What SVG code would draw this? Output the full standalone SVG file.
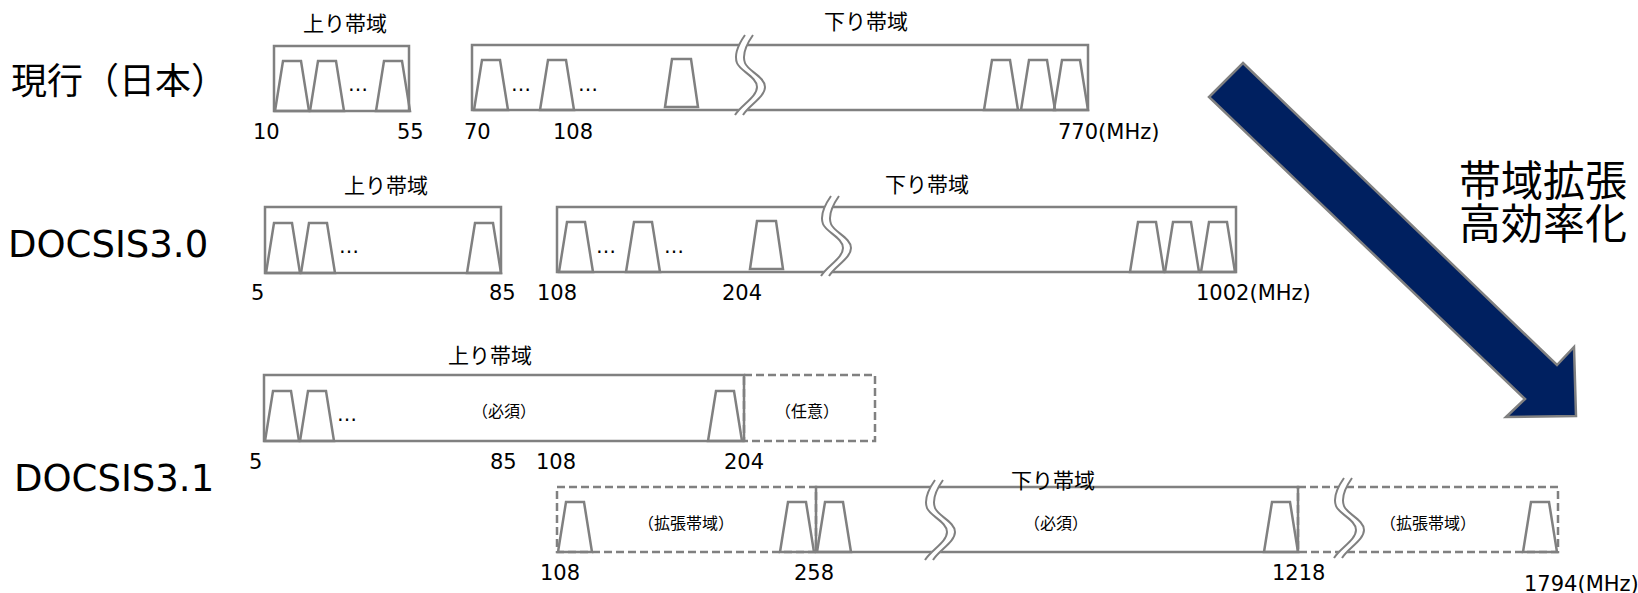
<svg xmlns="http://www.w3.org/2000/svg" xmlns:xlink="http://www.w3.org/1999/xlink" width="1638" height="593" viewBox="0 0 1638 593">
<style>
.box{fill:none;stroke:#808080;stroke-width:2.5}
.dash{fill:none;stroke:#808080;stroke-width:2.5;stroke-dasharray:8 4}
.trap{fill:none;stroke:#808080;stroke-width:2.5;stroke-linejoin:miter}
.brk{fill:none;stroke:#808080;stroke-width:2}
.brkw{fill:none;stroke:#ffffff;stroke-width:7}
.num{font-family:"DejaVu Sans",Verdana,sans-serif;font-size:21px;fill:#000}
.jp{font-family:"Noto Sans CJK JP",sans-serif;font-size:21px;fill:#000;text-anchor:middle}
.jps{font-family:"Noto Sans CJK JP",sans-serif;font-size:16px;fill:#000;text-anchor:middle}
.dots{font-family:"DejaVu Sans",sans-serif;font-size:20px;fill:#000}
.ttl{font-family:"DejaVu Sans",Verdana,sans-serif;font-size:37px;fill:#000}
.ttljp{font-family:"Noto Sans CJK JP",sans-serif;font-size:36px;fill:#000}
.big{font-family:"Noto Sans CJK JP",sans-serif;font-size:42px;fill:#000}
</style>
<defs>
<path id="tr" d="M0 0 L8 -50 L26 -50 L34 0 Z"/>
<path id="trs" d="M0 0 L7 -48 L26 -48 L33 0 Z"/>
<g id="brk">
<path class="brkw" d="M14 0 C7 10 3 20 6 28 C9 36 26 42 26 52 C26 62 10 70 4 80"/>
<path class="brk" d="M10 0 C3 10 -1 20 2 28 C5 36 22 42 22 52 C22 62 6 70 0 80"/>
<path class="brk" d="M18 0 C11 10 7 20 10 28 C13 36 30 42 30 52 C30 62 14 70 8 80"/>
</g>
</defs>
<rect width="1638" height="593" fill="#fff"/>

<g id="title-genko"><text class="ttljp" x="11" y="94">現行（日本）</text></g>
<g id="title-docsis30"><text class="ttl" x="8" y="257">DOCSIS3.0</text></g>
<g id="title-docsis31"><text class="ttl" x="14" y="491">DOCSIS3.1</text></g>

<!-- Row 1 -->
<g id="r1-up">
<text class="jp" x="345" y="31">上り帯域</text>
<rect class="box" x="274" y="46" width="135" height="65"/>
<use href="#tr" class="trap" x="275" y="111"/>
<use href="#tr" class="trap" x="310" y="111"/>
<use href="#tr" class="trap" x="376" y="111"/>
<text class="dots" x="348" y="91">…</text>
<text class="num" x="253" y="139">10</text>
<text class="num" x="397" y="139">55</text>
</g>
<g id="r1-down">
<text class="jp" x="866" y="29">下り帯域</text>
<rect class="box" x="472" y="45" width="616" height="65"/>
<use href="#tr" class="trap" x="474" y="110"/>
<use href="#tr" class="trap" x="540" y="110"/>
<use href="#trs" class="trap" x="665" y="107"/>
<use href="#tr" class="trap" x="984" y="110"/>
<use href="#tr" class="trap" x="1021" y="110"/>
<use href="#tr" class="trap" x="1054" y="110"/>
<use href="#brk" x="735" y="35"/>
<text class="dots" x="511" y="91">…</text>
<text class="dots" x="578" y="91">…</text>
<text class="num" x="464" y="139">70</text>
<text class="num" x="553" y="139">108</text>
<text class="num" x="1058" y="139">770(MHz)</text>
</g>

<!-- Row 2 -->
<g id="r2-up">
<text class="jp" x="386" y="193">上り帯域</text>
<rect class="box" x="265" y="207" width="236" height="66"/>
<use href="#tr" class="trap" x="266" y="273"/>
<use href="#tr" class="trap" x="301" y="273"/>
<use href="#tr" class="trap" x="467" y="273"/>
<text class="dots" x="339" y="253">…</text>
<text class="num" x="251" y="300">5</text>
<text class="num" x="489" y="300">85</text>
</g>
<g id="r2-down">
<text class="jp" x="927" y="192">下り帯域</text>
<rect class="box" x="557" y="207" width="679" height="65"/>
<use href="#tr" class="trap" x="559" y="272"/>
<use href="#tr" class="trap" x="626" y="272"/>
<use href="#trs" class="trap" x="750" y="269"/>
<use href="#tr" class="trap" x="1130" y="272"/>
<use href="#tr" class="trap" x="1165" y="272"/>
<use href="#tr" class="trap" x="1201" y="272"/>
<use href="#brk" x="821" y="196"/>
<text class="dots" x="596" y="253">…</text>
<text class="dots" x="664" y="253">…</text>
<text class="num" x="537" y="300">108</text>
<text class="num" x="722" y="300">204</text>
<text class="num" x="1196" y="300">1002(MHz)</text>
</g>

<!-- Row 3 up -->
<g id="r3-up">
<text class="jp" x="490" y="363">上り帯域</text>
<rect class="dash" x="744" y="375" width="131" height="66"/>
<rect class="box" x="264" y="375" width="480" height="66"/>
<use href="#tr" class="trap" x="265" y="441"/>
<use href="#tr" class="trap" x="300" y="441"/>
<use href="#tr" class="trap" x="708" y="441"/>
<text class="dots" x="337" y="421">…</text>
<text class="jps" x="504" y="417">（必須）</text>
<text class="jps" x="807" y="417">（任意）</text>
<text class="num" x="249" y="469">5</text>
<text class="num" x="490" y="469">85</text>
<text class="num" x="536" y="469">108</text>
<text class="num" x="724" y="469">204</text>
</g>

<!-- Row 3 down -->
<g id="r3-down">
<rect class="dash" x="557" y="487" width="259" height="65"/>
<rect class="dash" x="1298" y="487" width="260" height="65"/>
<rect class="box" x="816" y="487" width="482" height="65"/>
<use href="#tr" class="trap" x="558" y="552"/>
<use href="#tr" class="trap" x="780" y="552"/>
<use href="#tr" class="trap" x="817" y="552"/>
<use href="#tr" class="trap" x="1264" y="552"/>
<use href="#tr" class="trap" x="1523" y="552"/>
<use href="#brk" x="925" y="480"/>
<use href="#brk" x="1334" y="478"/>
<text class="jp" x="1053" y="488">下り帯域</text>
<text class="jps" x="686" y="529">（拡張帯域）</text>
<text class="jps" x="1056" y="529">（必須）</text>
<text class="jps" x="1428" y="529">（拡張帯域）</text>
<text class="num" x="540" y="580">108</text>
<text class="num" x="794" y="580">258</text>
<text class="num" x="1272" y="580">1218</text>
<text class="num" x="1524" y="591">1794(MHz)</text>
</g>

<g id="connectors">
<polygon points="1243,63 1557,365 1574,347 1576,416 1506,417 1525,399 1209,97" fill="#002060" stroke="#808080" stroke-width="2.5" stroke-linejoin="miter"/>
</g>
<g id="label-kakucho">
<text class="big" x="1459" y="196"><tspan x="1459" y="196">帯域拡張</tspan><tspan x="1459" y="239">高効率化</tspan></text>
</g>
</svg>
